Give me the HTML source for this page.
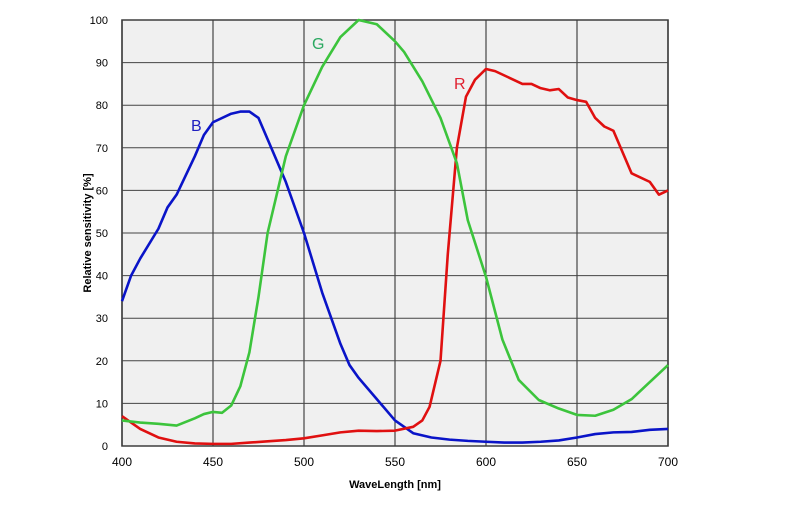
<!DOCTYPE html>
<html><head><meta charset="utf-8"><style>
body{margin:0;background:#fff;}
svg text{font-family:"Liberation Sans",Arial,sans-serif;}
</style></head><body>
<svg width="800" height="500" viewBox="0 0 800 500">
<g id="grid"></g><g id="series"></g><g id="labels"></g>
<text x="395" y="488" font-size="11" font-weight="bold" text-anchor="middle">WaveLength [nm]</text>
<text transform="translate(91,233) rotate(-90)" font-size="11" font-weight="bold" text-anchor="middle">Relative sensitivity [%]</text>
</svg>
<script>
const xTicks=[400,450,500,550,600,650,700];
const yTicks=[0,10,20,30,40,50,60,70,80,90,100];
const bX=[400,405,410,420,425,430,440,445,450,460,465,470,475,480,490,500,510,520,525,530,540,550,560,570,580,590,600,610,620,630,640,650,660,670,680,690,700];
const bY=[34,40,44,51,56,59,68,73,76,78,78.5,78.5,77,72,62,50,36,24,19,16,11,6,3,2,1.5,1.2,1,0.8,0.8,1,1.3,2,2.8,3.2,3.3,3.8,4];
const gX=[400,410,420,430,440,445,450,455,460,465,470,475,480,490,500,510,520,530,540,550,555,565,575,584,590,600,609,618,629,640,650,660,670,680,690,700];
const gY=[6,5.5,5.2,4.8,6.5,7.5,8,7.8,9.5,14,22,35,50,68,80,89,96,100,99,95,92.5,85.6,77,66.4,53,39.7,25,15.5,10.8,8.8,7.3,7.1,8.5,11,15,19];
const rX=[400,405,410,420,430,440,450,460,470,480,490,500,510,520,530,540,550,560,565,569,575,579,584,589,594,600,605,610,620,625,630,635,640,645,650,655,660,665,670,680,690,695,700];
const rY=[7,5.5,4,2,1,0.6,0.5,0.5,0.8,1.1,1.4,1.8,2.5,3.2,3.6,3.5,3.6,4.5,6,9.2,20,45,70,82,86,88.5,88,87,85,85,84,83.5,83.8,81.8,81.2,80.8,77,75,74,64,62,59,60];
const X0=122,X1=668,Y0=446,Y1=20;
const sx=v=>X0+(v-400)/300*(X1-X0);
const sy=v=>Y0-v/100*(Y0-Y1);
const NS="http://www.w3.org/2000/svg";
function mk(t,a,p){const e=document.createElementNS(NS,t);for(const k in a)e.setAttribute(k,a[k]);p.appendChild(e);return e;}
const grid=document.getElementById('grid');
const bg=mk('rect',{x:X0,y:Y1,width:X1-X0,height:Y0-Y1,fill:'#f0f0f0',stroke:'#333','stroke-width':1.5},grid);


xTicks.forEach(v=>{
 const l=mk('line',{x1:sx(v),x2:sx(v),y1:Y1,y2:Y0,stroke:'#222','stroke-width':1},grid);
 
 
 const t=mk('text',{x:sx(v),y:Y0+20,'font-size':12,'text-anchor':'middle'},grid);t.textContent=v;
 
 
});
yTicks.forEach(v=>{
 const l=mk('line',{x1:X0,x2:X1,y1:sy(v),y2:sy(v),stroke:'#444','stroke-width':1},grid);
 
 
 const t=mk('text',{x:X0-14,y:sy(v)+4,'font-size':11,'text-anchor':'end'},grid);t.textContent=v;
 
 
});
const ser=document.getElementById('series');
function line(xs,ys,c,name){
 const p=mk('polyline',{points:xs.map((x,i)=>sx(x)+','+sy(ys[i])).join(' '),fill:'none',stroke:c,'stroke-width':2.6,'stroke-linejoin':'round'},ser);
 
 
}
line(bX,bY,'#0a14c8','blue-series');
line(rX,rY,'#e01010','red-series');
line(gX,gY,'#3cc43c','green-series');
const lab=document.getElementById('labels');
[['B',191,131,'#2020c0','blue-label'],['G',312,49,'#2aa860','green-label'],['R',454,89,'#e02030','red-label']].forEach(a=>{
 const t=mk('text',{x:a[1],y:a[2],'font-size':16,fill:a[3]},lab);t.textContent=a[0];
 
 
});
</script>
</body></html>
